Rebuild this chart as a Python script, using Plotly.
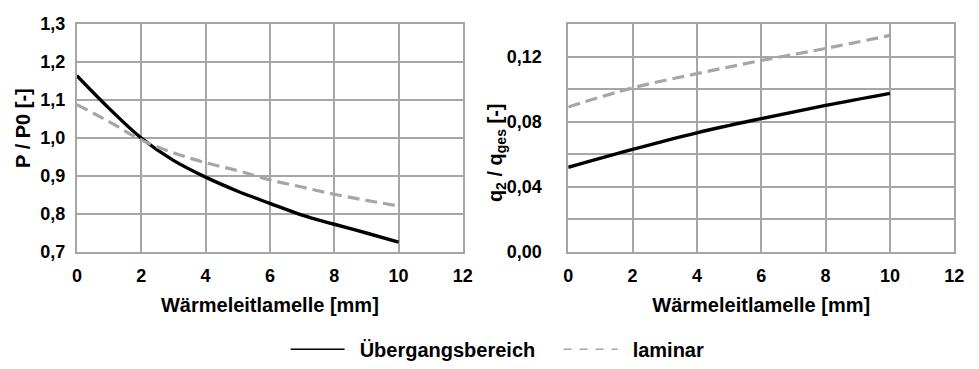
import plotly.graph_objects as go

x_vals = [0, 1, 2, 3, 4, 5, 6, 7, 8, 9, 10]
p_uebergang = [1.164, 1.078, 1.0, 0.941, 0.897, 0.860, 0.828, 0.797, 0.773, 0.750, 0.726]
p_laminar = [1.088, 1.043, 0.995, 0.961, 0.935, 0.914, 0.890, 0.871, 0.852, 0.836, 0.821]

x_q = [0, 2, 4, 6, 8, 10]
q_uebergang = [0.052, 0.063, 0.0732, 0.0819, 0.090, 0.0974]
q_laminar = [0.089, 0.1008, 0.1095, 0.1176, 0.125, 0.133]

left_yticks = [0.7, 0.8, 0.9, 1.0, 1.1, 1.2, 1.3]
left_ytext = ["0,7", "0,8", "0,9", "1,0", "1,1", "1,2", "1,3"]
right_yticks = [0.0, 0.02, 0.04, 0.06, 0.08, 0.10, 0.12, 0.14]
right_ytext = ["0,00", "", "0,04", "", "0,08", "", "0,12", ""]
xticks = [0, 2, 4, 6, 8, 10, 12]
series_names = ["Übergangsbereich", "laminar"]

BLACK = "#000000"
GRAY = "#A6A6A6"
GRID = "#A6A6A6"
FONT = "Liberation Sans, Arial, sans-serif"

fig = go.Figure()
# data traces
fig.add_trace(go.Scatter(x=x_vals, y=p_uebergang, mode="lines", name=series_names[0], showlegend=False,
                         line=dict(color=BLACK, width=3.4, shape="spline"), xaxis="x", yaxis="y"))
fig.add_trace(go.Scatter(x=x_vals, y=p_laminar, mode="lines", name=series_names[1], showlegend=False,
                         line=dict(color=GRAY, width=3.2, dash="12px,6px", shape="spline"), xaxis="x", yaxis="y"))
fig.add_trace(go.Scatter(x=x_q, y=q_uebergang, mode="lines", name=series_names[0], showlegend=False,
                         line=dict(color=BLACK, width=3.4, shape="spline"), xaxis="x2", yaxis="y2"))
fig.add_trace(go.Scatter(x=x_q, y=q_laminar, mode="lines", name=series_names[1], showlegend=False,
                         line=dict(color=GRAY, width=3.2, dash="12px,6px", shape="spline"), xaxis="x2", yaxis="y2"))
# legend-only entries (thin line samples as in the reference)
fig.add_trace(go.Scatter(x=[None], y=[None], mode="lines", name="&#8194;" + series_names[0],
                         line=dict(color=BLACK, width=1.5), xaxis="x", yaxis="y"))
fig.add_trace(go.Scatter(x=[None], y=[None], mode="lines", name="&#8194;" + series_names[1],
                         line=dict(color=GRAY, width=1.5, dash="8px,8px"), xaxis="x", yaxis="y"))

tickfont = dict(family=FONT, size=18, color="#000000", weight="bold")
titlefont = dict(family=FONT, size=20, color="#000000", weight="bold")

xcommon = dict(range=[0, 12], tickvals=xticks, showgrid=True, gridcolor=GRID, gridwidth=1.8,
               showline=True, linecolor=GRID, linewidth=1.8, mirror=True, zeroline=False,
               tickfont=tickfont, ticks="", fixedrange=True, ticklabelstandoff=6)
ycommon = dict(showgrid=True, gridcolor=GRID, gridwidth=1.8,
               showline=True, linecolor=GRID, linewidth=1.8, mirror=True, zeroline=False,
               tickfont=tickfont, ticks="", fixedrange=True)

fig.update_layout(
    width=979, height=369,
    margin=dict(l=0, r=0, t=24, b=113),
    paper_bgcolor="white", plot_bgcolor="white",
    font=dict(family=FONT, size=18, color="#000000"),
    separators=",.",
    xaxis=dict(domain=[73/979, 465/979], anchor="y",
               title=dict(text="Wärmeleitlamelle [mm]", font=titlefont, standoff=13), **xcommon),
    yaxis=dict(domain=[0, 1], anchor="x", range=[0.7, 1.3], tickvals=left_yticks, ticktext=left_ytext,
               ticklabelstandoff=6, **ycommon),
    xaxis2=dict(domain=[572/979, 964/979], anchor="y2",
                title=dict(text="Wärmeleitlamelle [mm]", font=titlefont, standoff=13), **xcommon),
    yaxis2=dict(domain=[0, 1], anchor="x2", range=[0, 0.14], tickvals=right_yticks, ticktext=right_ytext,
                ticklabelstandoff=21, **ycommon),
    legend=dict(orientation="h", x=285/979, xanchor="left", y=-0.427, yanchor="middle",
                font=dict(family=FONT, size=20, color="#000000", weight="bold"), itemwidth=54,
                entrywidth=204, entrywidthmode="pixels",
                bgcolor="rgba(0,0,0,0)"),
    showlegend=True,
    annotations=[
        dict(text="P / P0 [-]", x=18/979, y=(256-130)/232, xref="paper", yref="paper",
             textangle=-90, showarrow=False, font=titlefont, xanchor="center", yanchor="middle"),
        dict(text="q<sub>2</sub> / q<sub>ges</sub> [-]", x=499/979, y=(256-155)/232, xref="paper", yref="paper",
             textangle=-90, showarrow=False, font=titlefont, xanchor="center", yanchor="middle"),
    ],
)

fig.write_html("out.html")
